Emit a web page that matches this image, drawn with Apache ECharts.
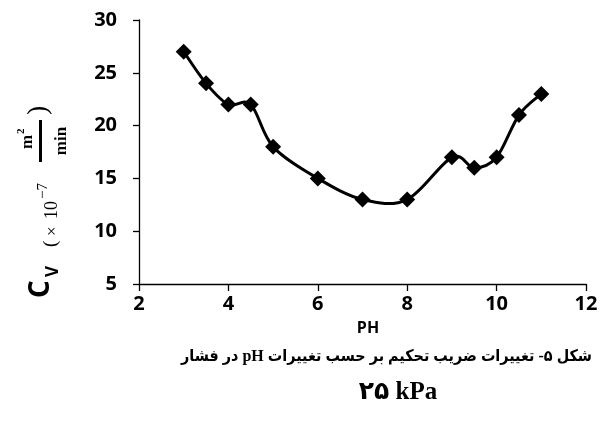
<!DOCTYPE html>
<html>
<head>
<meta charset="utf-8">
<script src="https://cdn.jsdelivr.net/npm/echarts@6/dist/echarts.min.js"></script>
<style>html,body{margin:0;padding:0;background:#fff}#c{width:607px;height:424px}</style>
</head>
<body>
<div id="c"></div>
<script>
// Data
var phValues = [3, 3.5, 4, 4.5, 5, 6, 7, 8, 9, 9.5, 10, 10.5, 11];
var cvValues = [27, 24, 22, 22, 18, 15, 13, 13, 17, 16, 17, 21, 23];
var xTicks = [2, 4, 6, 8, 10, 12];
var yTicks = [5, 10, 15, 20, 25, 30];
var xName = 'PH';
var captionLine1 = 'شکل ۵- تغییرات ضریب تحکیم بر حسب تغییرات pH در فشار';
var captionLine2 = '۲۵ kPa';

var chart = echarts.init(document.getElementById('c'), null, {renderer: 'canvas'});

function T(text, lx, base, size, weight, family, align) {
  return {
    type: 'text',
    style: {
      text: text, x: lx, y: base - 0.33 * size,
      font: (weight || 'normal') + ' ' + size + 'px ' + family,
      fill: '#000',
      align: align || 'left', verticalAlign: 'middle',
      textAlign: align || 'left', textVerticalAlign: 'middle'
    }
  };
}
var SERIF = '"Liberation Serif", serif';
var SANS = '"Open Sans", sans-serif';

var yLabelGroup = {
  type: 'group',
  x: 58, y: 298,
  rotation: Math.PI / 2,
  children: [
    T('C', 0, -8, 28, 'bold', SANS),
    T('V', 21, 1, 17, 'bold', SANS),
    T('(', 51, -1, 19, 'normal', SERIF),
    T('×', 62, 0, 17, 'normal', SERIF),
    T('10', 79, 0, 18, 'normal', SERIF),
    T('−7', 99, -10, 15, 'normal', SERIF),
    T('m', 156, -25, 17, 'bold', SERIF, 'center'),
    T('2', 164, -33, 11, 'bold', SERIF),
    {type: 'rect', shape: {x: 136, y: -19, width: 42, height: 3}, style: {fill: '#000'}},
    T('min', 157, 9, 17, 'bold', SERIF, 'center'),
    T(')', 183, -10, 28, 'normal', SERIF)
  ]
};

function segRender(params, api) {
  var i = params.dataIndex;
  var n = phValues.length;
  if (i >= n - 1) return null;
  function P(k) {
    k = Math.max(0, Math.min(n - 1, k));
    return api.coord([phValues[k], cvValues[k]]);
  }
  var p0 = P(i - 1), p1 = P(i), p2 = P(i + 1), p3 = P(i + 2);
  return {
    type: 'bezierCurve',
    shape: {
      x1: p1[0], y1: p1[1], x2: p2[0], y2: p2[1],
      cpx1: p1[0] + (p2[0] - p0[0]) / 6, cpy1: p1[1] + (p2[1] - p0[1]) / 6,
      cpx2: p2[0] - (p3[0] - p1[0]) / 6, cpy2: p2[1] - (p3[1] - p1[1]) / 6
    },
    style: {stroke: '#000', lineWidth: 3, fill: null}
  };
}

var points = phValues.map(function (x, i) { return [x, cvValues[i]]; });

var option = {
  animation: false,
  backgroundColor: '#fff',
  grid: {left: 139, right: 21, top: 20, bottom: 140, containLabel: false},
  xAxis: {
    type: 'value', min: xTicks[0], max: xTicks[xTicks.length - 1], interval: 2,
    axisLine: {lineStyle: {color: '#000', width: 1.3}},
    axisTick: {show: true, length: 7, lineStyle: {color: '#000', width: 1.3}},
    axisLabel: {color: '#000', fontFamily: '"Open Sans", sans-serif', fontWeight: 'bold', fontSize: 20, margin: 10},
    splitLine: {show: false}
  },
  yAxis: {
    type: 'value', min: yTicks[0], max: yTicks[yTicks.length - 1], interval: 5,
    axisLine: {show: true, lineStyle: {color: '#000', width: 1.3}},
    axisTick: {show: true, length: 6, lineStyle: {color: '#000', width: 1.3}},
    axisLabel: {color: '#000', fontFamily: '"Open Sans", sans-serif', fontWeight: 'bold', fontSize: 20, margin: 22},
    splitLine: {show: false}
  },
  series: [{
    type: 'custom',
    renderItem: segRender,
    data: points,
    encode: {x: 0, y: 1},
    z: 2
  }, {
    type: 'scatter',
    data: points,
    symbol: 'diamond',
    symbolSize: 16,
    itemStyle: {color: '#000', opacity: 1},
    z: 3
  }],
  graphic: [
    yLabelGroup,
    {type: 'text', style: {text: xName, x: 368, y: 328, font: 'bold 16px "Open Sans", sans-serif', fill: '#000',
      align: 'center', verticalAlign: 'middle', textAlign: 'center', textVerticalAlign: 'middle'}},
    {type: 'text', style: {text: '\u202B' + captionLine1 + '\u202C', x: 592, y: 357,
      font: 'bold 16px "Liberation Serif", "DejaVu Sans Condensed", "DejaVu Sans", serif', fill: '#000',
      align: 'right', verticalAlign: 'middle', textAlign: 'right', textVerticalAlign: 'middle'}},
    {type: 'text', style: {text: captionLine2, x: 398, y: 393,
      font: 'bold 25px "Liberation Serif", "DejaVu Sans", serif', fill: '#000',
      align: 'center', verticalAlign: 'middle', textAlign: 'center', textVerticalAlign: 'middle'}}
  ]
};
chart.setOption(option);
</script>
</body>
</html>
